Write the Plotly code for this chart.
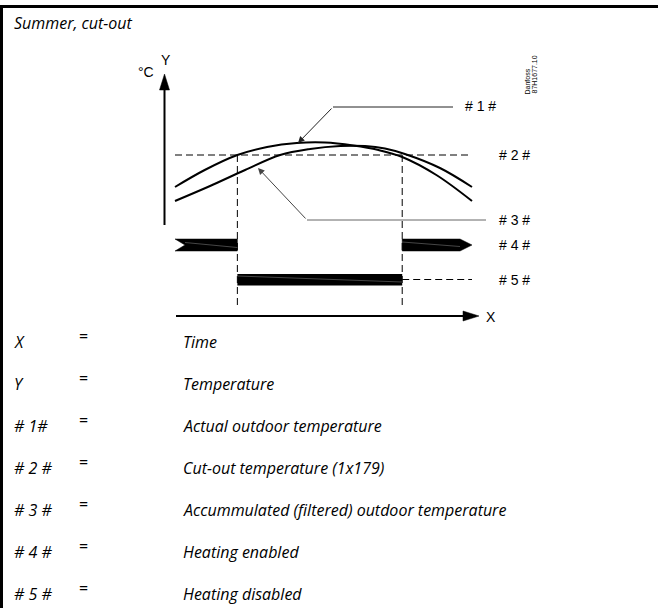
import plotly.graph_objects as go

W, H = 658, 608

# ---------------- data ----------------
time_actual = [0, 10, 21, 31, 41, 50.5, 60, 68.5, 76.5, 88, 100]
temp_actual = [14.8, 16.5, 18.0, 18.8, 19.2, 19.25, 18.95, 18.5, 17.8, 16.0, 13.4]

time_accum = [0, 11.8, 23.6, 35.4, 45.5, 55.6, 64, 70.7, 77.4, 89.2, 100]
temp_accum = [13.4, 14.9, 16.5, 18.0, 18.6, 18.9, 18.9, 18.65, 18.1, 16.7, 14.8]

cutout_temp = 18.0
time_span = [0, 100]
switch_times = [21, 76.5]          # heating disabled between these times

marker_labels = ["# 1 #", "# 2 #", "# 3 #", "# 4 #", "# 5 #"]
legend_symbols = ["X", "Y", "# 1#", "# 2 #", "# 3 #", "# 4 #", "# 5 #"]
legend_texts = ["Time", "Temperature", "Actual outdoor temperature",
                "Cut-out temperature (1x179)",
                "Accummulated (filtered) outdoor temperature",
                "Heating enabled", "Heating disabled"]
title_text = "Summer, cut-out"

# ---------------- layout geometry ----------------
PX_PER_T = 2.97
T0_PX = 175.0
PX_PER_DEG = 10.0
CUT_PX = 155.0
X_RANGE = [-T0_PX / PX_PER_T, (W - T0_PX) / PX_PER_T]
Y_RANGE = [cutout_temp - (H - CUT_PX) / PX_PER_DEG, cutout_temp + CUT_PX / PX_PER_DEG]


def px(x):
    return x / W


def py(y):
    return 1 - y / H


def yd(y):  # pixel row -> temperature units
    return Y_RANGE[1] - y / H * (Y_RANGE[1] - Y_RANGE[0])


DASH = "7px,4px"

fig = go.Figure()

curve_line = dict(color="black", width=2, shape="spline", smoothing=1)
fig.add_trace(go.Scatter(x=time_actual, y=temp_actual, mode="lines",
                         line=curve_line, hoverinfo="skip"))
fig.add_trace(go.Scatter(x=time_accum, y=temp_accum, mode="lines",
                         line=curve_line, hoverinfo="skip"))
fig.add_trace(go.Scatter(x=time_span, y=[cutout_temp] * 2, mode="lines",
                         line=dict(color="black", width=1, dash=DASH),
                         hoverinfo="skip"))

shapes = []
# vertical dashed switch lines
for t in switch_times:
    shapes.append(dict(type="line", xref="x", yref="y", x0=t, x1=t,
                       y0=cutout_temp, y1=yd(308),
                       line=dict(color="black", width=1, dash=DASH)))

# heating enabled bars (#4)
b4_top, b4_bot, b4_mid = py(239), py(251), py(245)
notch = 10 / PX_PER_T
tip = 12 / PX_PER_T
t_start, t_end = time_span
shapes.append(dict(type="path", xref="x", yref="paper",
                   path=f"M {t_start},{b4_top} L {switch_times[0]},{b4_top} "
                        f"L {switch_times[0]},{b4_bot} L {t_start},{b4_bot} "
                        f"L {t_start + notch},{b4_mid} Z",
                   fillcolor="black", line=dict(color="black", width=0.5)))
shapes.append(dict(type="path", xref="x", yref="paper",
                   path=f"M {switch_times[1]},{b4_top} L {t_end - tip},{b4_top} "
                        f"L {t_end},{b4_mid} L {t_end - tip},{b4_bot} "
                        f"L {switch_times[1]},{b4_bot} Z",
                   fillcolor="black", line=dict(color="black", width=0.5)))
# heating disabled bar (#5)
shapes.append(dict(type="rect", xref="x", yref="paper",
                   x0=switch_times[0], x1=switch_times[1], y0=py(285.5), y1=py(274),
                   fillcolor="black", line=dict(color="black", width=0)))
shapes.append(dict(type="line", xref="x", yref="paper",
                   x0=switch_times[1], x1=t_end, y0=py(279.5), y1=py(279.5),
                   line=dict(color="black", width=1, dash=DASH)))

# faint streaks inside the bars (as in the scanned drawing)
streak = dict(color="rgba(255,255,255,0.35)", width=0.8)
for (a, b, y0, y1) in [(t_start + notch, switch_times[0], 242.5, 247.5),
                       (switch_times[1], t_end - tip, 242, 246.5),
                       (switch_times[0], switch_times[1], 276, 282)]:
    shapes.append(dict(type="line", xref="x", yref="paper", x0=a, x1=b,
                       y0=py(y0), y1=py(y1), line=streak))

# axes arrows
shapes.append(dict(type="line", xref="paper", yref="paper",
                   x0=px(164.5), x1=px(164.5), y0=py(225), y1=py(86),
                   line=dict(color="black", width=2)))
shapes.append(dict(type="path", xref="paper", yref="paper",
                   path=f"M {px(164.5)},{py(74)} L {px(169.5)},{py(90)} L {px(159.5)},{py(90)} Z",
                   fillcolor="black", line=dict(color="black", width=0.5)))
shapes.append(dict(type="line", xref="paper", yref="paper",
                   x0=px(176), x1=px(466), y0=py(316), y1=py(316),
                   line=dict(color="black", width=2)))
shapes.append(dict(type="path", xref="paper", yref="paper",
                   path=f"M {px(479)},{py(316)} L {px(463)},{py(311)} L {px(463)},{py(321)} Z",
                   fillcolor="black", line=dict(color="black", width=0.5)))

# leader lines
shapes.append(dict(type="line", xref="paper", yref="paper",
                   x0=px(333), x1=px(453), y0=py(107), y1=py(107),
                   line=dict(color="#222", width=1)))
shapes.append(dict(type="line", xref="paper", yref="paper",
                   x0=px(307), x1=px(486), y0=py(220), y1=py(220),
                   line=dict(color="#666", width=1)))

# frame
shapes.append(dict(type="line", xref="paper", yref="paper",
                   x0=0, x1=1, y0=py(6.5), y1=py(6.5),
                   line=dict(color="black", width=3)))
shapes.append(dict(type="line", xref="paper", yref="paper",
                   x0=px(1.5), x1=px(1.5), y0=py(5), y1=0,
                   line=dict(color="black", width=3)))

ann = []
# arrows to curves
ann.append(dict(x=px(298), y=py(143), xref="paper", yref="paper", text="",
                showarrow=True, ax=35, ay=-36, axref="pixel", ayref="pixel",
                arrowhead=2, arrowsize=1.3, arrowwidth=1, arrowcolor="#222",
                standoff=0))
ann.append(dict(x=px(258), y=py(168), xref="paper", yref="paper", text="",
                showarrow=True, ax=49, ay=52, axref="pixel", ayref="pixel",
                arrowhead=2, arrowsize=1.3, arrowwidth=1, arrowcolor="#444",
                standoff=0))

diag_font = dict(family="Liberation Sans, Arial, sans-serif", size=14, color="black")
label_pos = [(463, 106), (497, 155), (497, 220), (497, 245), (497, 280)]
for lab, (lx, ly) in zip(marker_labels, label_pos):
    ann.append(dict(x=px(lx), y=py(ly), xref="paper", yref="paper", text=lab,
                    showarrow=False, xanchor="left", yanchor="middle", font=diag_font))

ann.append(dict(x=px(165.5), y=py(60), xref="paper", yref="paper", text="Y",
                showarrow=False, xanchor="center", yanchor="middle", font=diag_font))
ann.append(dict(x=px(146), y=py(72), xref="paper", yref="paper", text="°C",
                showarrow=False, xanchor="center", yanchor="middle", font=diag_font))
ann.append(dict(x=px(491), y=py(317), xref="paper", yref="paper", text="X",
                showarrow=False, xanchor="center", yanchor="middle", font=diag_font))

tiny = dict(family="Liberation Sans, Arial, sans-serif", size=7, color="black")
ann.append(dict(x=px(527), y=py(81.5), xref="paper", yref="paper", text="Danfoss",
                showarrow=False, textangle=-90, xanchor="center", yanchor="middle", font=tiny))
ann.append(dict(x=px(534.5), y=py(75), xref="paper", yref="paper", text="87H1677.10",
                showarrow=False, textangle=-90, xanchor="center", yanchor="middle", font=tiny))

it_font = dict(family="Open Sans, Noto Sans, sans-serif", size=16, color="black", style="italic")
ann.append(dict(x=px(12), y=py(23), xref="paper", yref="paper", text=title_text,
                showarrow=False, xanchor="left", yanchor="middle", font=it_font))

row0, row_step = 342, 42
for i, (sym, txt) in enumerate(zip(legend_symbols, legend_texts)):
    yy = row0 + i * row_step
    ann.append(dict(x=px(12), y=py(yy), xref="paper", yref="paper", text=sym,
                    showarrow=False, xanchor="left", yanchor="middle", font=it_font))
    ann.append(dict(x=px(83), y=py(yy - 6), xref="paper", yref="paper", text="=",
                    showarrow=False, xanchor="center", yanchor="middle",
                    font=dict(family="Open Sans, sans-serif", size=16, color="black")))
    ann.append(dict(x=px(181), y=py(yy), xref="paper", yref="paper", text=txt,
                    showarrow=False, xanchor="left", yanchor="middle", font=it_font))

fig.update_layout(
    width=W, height=H, margin=dict(l=0, r=0, t=0, b=0),
    paper_bgcolor="white", plot_bgcolor="white", showlegend=False,
    xaxis=dict(visible=False, range=X_RANGE, domain=[0, 1], fixedrange=True),
    yaxis=dict(visible=False, range=Y_RANGE, domain=[0, 1], fixedrange=True),
    shapes=shapes, annotations=ann,
)

fig.write_html("out.html", config={"displayModeBar": False},
               post_script="document.body.style.margin='0px';")
